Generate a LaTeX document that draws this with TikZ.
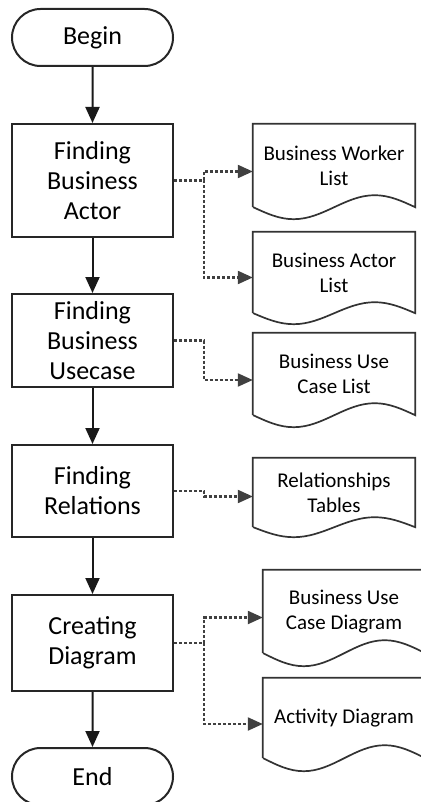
\documentclass[tikz,border=0pt]{standalone}
\usepackage{fontspec}
\setmainfont{Carlito}
\usetikzlibrary{shapes.misc, arrows.meta}

\begin{document}
\begin{tikzpicture}[x=1pt, y=-1pt,
    proc/.style={
      rectangle,
      draw=black!85,
      line width=2pt,
      minimum width=161pt,
      inner sep=0pt,
      align=center,
      font=\fontsize{26}{30}\selectfont
    },
    term/.style={proc, rounded rectangle, minimum height=57pt},
    doc/.style={
      minimum width=162pt,
      inner sep=0pt,
      align=center,
      font=\fontsize{21}{25}\selectfont
    },
    docline/.style={draw=black!80, line width=1.7pt},
    flow/.style={draw=black!90, line width=2pt, -{Triangle[length=16pt,width=14pt]}},
    dataflow/.style={draw=black!75, line width=2.2pt, dash pattern=on 3pt off 2pt,
      -{Triangle[length=15pt,width=13pt]}}]
  \useasboundingbox (0,0) rectangle (420,802);

  % main flow
  \node[term] (begin) at (92.5,37.5) {Begin};
  \node[proc,minimum height=113pt] (actor) at (92.5,180.5) {Finding\\Business\\Actor};
  \node[proc,minimum height=93pt] (usecase) at (92.5,340.5) {Finding\\Business\\Usecase};
  \node[proc,minimum height=92pt] (rel) at (92.5,491) {Finding\\Relations};
  \node[proc,minimum height=96pt] (diag) at (92.5,643) {Creating\\Diagram};
  \node[term] (End) at (92.5,776.5) {End};

  \draw[flow] (begin) -- (actor);
  \draw[flow] (actor) -- (usecase);
  \draw[flow] (usecase) -- (rel);
  \draw[flow] (rel) -- (diag);
  \draw[flow] (diag) -- (End);

  % documents
  \node[doc,minimum height=83pt] (workerlist) at (334,165.5) {Business Worker\\List};
  \node[doc,minimum height=81pt] (actorlist) at (334,272.5) {Business Actor\\List};
  \node[doc,minimum height=82pt] (uclist) at (334,374) {Business Use\\Case List};
  \node[doc,minimum height=69pt] (reltab) at (334,492.5) {Relationships\\Tables};
  \node[doc,minimum height=83pt] (ucdiag) at (344,611.5) {Business Use\\Case Diagram};
  \node[doc,minimum height=80pt] (actdiag) at (344,718) {Activity Diagram};

  \foreach \n/\a in {workerlist/12, actorlist/11, uclist/12, reltab/10, ucdiag/13, actdiag/13}
    \draw[docline] (\n.south west) -- (\n.north west) -- (\n.north east) -- (\n.south east)
      sin ++(-40.5,-\a) cos ++(-40.5,\a) sin ++(-40.5,\a) cos ++(-40.5,-\a);

  % outputs
  \draw[dataflow] (actor.east) -- ++(30,0) |- ([yshift=-6pt]workerlist.west);
  \draw[dataflow] (actor.east) -- ++(30,0) |- ([yshift=-5pt]actorlist.west);
  \draw[dataflow] (usecase.east) -- ++(30,0) |- ([yshift=-6pt]uclist.west);
  \draw[dataflow] (rel.east) -- ++(30,0) |- ([yshift=-4pt]reltab.west);
  \draw[dataflow] (diag.east) -- ++(30,0) |- ([yshift=-6pt]ucdiag.west);
  \draw[dataflow] (diag.east) -- ++(30,0) |- ([yshift=-6pt]actdiag.west);
\end{tikzpicture}
\end{document}
